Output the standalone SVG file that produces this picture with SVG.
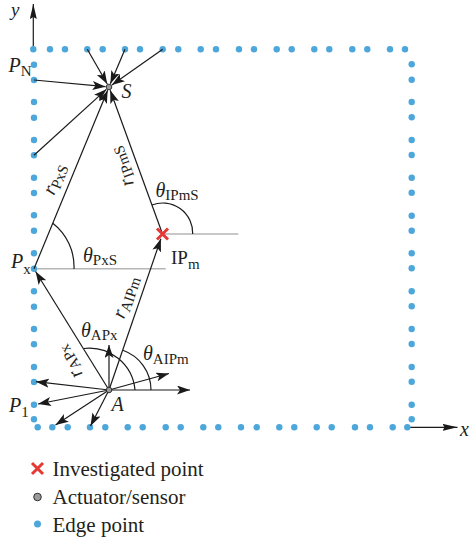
<svg xmlns="http://www.w3.org/2000/svg" width="470" height="541" viewBox="0 0 470 541">
<defs>
<style>
.edge{fill:#4ea7da}
.act{fill:#9a9a9a;stroke:#222;stroke-width:0.9}
.ln{stroke:#1a1a1a;stroke-width:1.2;fill:none}
.arr{stroke:#1a1a1a;stroke-width:1.2;fill:none;marker-end:url(#ah)}
.ax{stroke:#1a1a1a;stroke-width:1.2;fill:none;marker-end:url(#axh)}
.ref{stroke:#b5b5b5;stroke-width:1.5;fill:none}
.xm{stroke:#e53935;stroke-width:3;fill:none}
text{font-family:"Liberation Serif","Times New Roman",serif;fill:#231f20}
.it{font-style:italic;font-size:20px}
.sub{font-style:normal;font-size:15px}
.up{font-size:19px}
.leg{font-size:21px}
</style>
<marker id="ah" markerUnits="userSpaceOnUse" markerWidth="14" markerHeight="10" refX="13" refY="4.5" orient="auto">
<path d="M0,0 L13,4.5 L0,9 L3,4.5 z" fill="#1a1a1a"/>
</marker>
<marker id="axh" markerUnits="userSpaceOnUse" markerWidth="16" markerHeight="8" refX="15" refY="3.5" orient="auto">
<path d="M0,0 L15,3.5 L0,7 L2,3.5 z" fill="#1a1a1a"/>
</marker>
</defs>

<g id="axes">
<line class="ax" x1="33.3" y1="49.3" x2="33.3" y2="4"/>
<line class="ax" x1="410" y1="427.3" x2="457.5" y2="427.3"/>
<text class="it" x="11" y="16" style="font-size:19px">y</text>
<text class="it" x="460" y="436">x</text>
</g>

<g id="reference-lines">
<line class="ref" x1="34" y1="268.7" x2="165.7" y2="268.7"/>
<line class="ref" x1="162.5" y1="234" x2="238.3" y2="234"/>
</g>

<g id="edge-points">
<g class="edge">
<circle cx="33.3" cy="49.3" r="3.2"/><circle cx="50" cy="49.3" r="3.2"/><circle cx="65" cy="49.3" r="3.2"/><circle cx="87.3" cy="49.3" r="3.2"/><circle cx="102.7" cy="49.3" r="3.2"/><circle cx="125" cy="49.3" r="3.2"/><circle cx="140" cy="49.3" r="3.2"/><circle cx="162.7" cy="49.3" r="3.2"/><circle cx="178.3" cy="49.3" r="3.2"/><circle cx="200.7" cy="49.3" r="3.2"/><circle cx="216" cy="49.3" r="3.2"/><circle cx="239" cy="49.3" r="3.2"/><circle cx="254" cy="49.3" r="3.2"/><circle cx="276.7" cy="49.3" r="3.2"/><circle cx="291.7" cy="49.3" r="3.2"/><circle cx="314.3" cy="49.3" r="3.2"/><circle cx="329.3" cy="49.3" r="3.2"/><circle cx="352.3" cy="49.3" r="3.2"/><circle cx="367.3" cy="49.3" r="3.2"/><circle cx="390" cy="49.3" r="3.2"/><circle cx="405" cy="49.3" r="3.2"/>
<circle cx="411.7" cy="64.3" r="3.2"/><circle cx="411.7" cy="79.7" r="3.2"/><circle cx="411.7" cy="102" r="3.2"/><circle cx="411.7" cy="117.3" r="3.2"/><circle cx="411.7" cy="140" r="3.2"/><circle cx="411.7" cy="155" r="3.2"/><circle cx="411.7" cy="177.7" r="3.2"/><circle cx="411.7" cy="192.7" r="3.2"/><circle cx="411.7" cy="215.7" r="3.2"/><circle cx="411.7" cy="230.7" r="3.2"/><circle cx="411.7" cy="253.3" r="3.2"/><circle cx="411.7" cy="268.3" r="3.2"/><circle cx="411.7" cy="291.3" r="3.2"/><circle cx="411.7" cy="306.3" r="3.2"/><circle cx="411.7" cy="329" r="3.2"/><circle cx="411.7" cy="344" r="3.2"/><circle cx="411.7" cy="367" r="3.2"/><circle cx="411.7" cy="381.7" r="3.2"/><circle cx="411.7" cy="404.7" r="3.2"/><circle cx="411.7" cy="419.3" r="3.2"/>
<circle cx="37.7" cy="427.3" r="3.2"/><circle cx="52.3" cy="427.3" r="3.2"/><circle cx="67.7" cy="427.3" r="3.2"/><circle cx="90" cy="427.3" r="3.2"/><circle cx="105.3" cy="427.3" r="3.2"/><circle cx="127.7" cy="427.3" r="3.2"/><circle cx="142.7" cy="427.3" r="3.2"/><circle cx="165.7" cy="427.3" r="3.2"/><circle cx="180.7" cy="427.3" r="3.2"/><circle cx="203.3" cy="427.3" r="3.2"/><circle cx="218.3" cy="427.3" r="3.2"/><circle cx="241" cy="427.3" r="3.2"/><circle cx="256.7" cy="427.3" r="3.2"/><circle cx="279.3" cy="427.3" r="3.2"/><circle cx="294.3" cy="427.3" r="3.2"/><circle cx="316.7" cy="427.3" r="3.2"/><circle cx="331.7" cy="427.3" r="3.2"/><circle cx="355" cy="427.3" r="3.2"/><circle cx="370" cy="427.3" r="3.2"/><circle cx="392.7" cy="427.3" r="3.2"/><circle cx="407.3" cy="427.3" r="3.2"/>
<circle cx="34" cy="64.7" r="3.2"/><circle cx="34" cy="102" r="3.2"/><circle cx="34" cy="117.7" r="3.2"/><circle cx="34" cy="140" r="3.2"/><circle cx="34" cy="155.3" r="3.2"/><circle cx="34" cy="177.7" r="3.2"/><circle cx="34" cy="193" r="3.2"/><circle cx="34" cy="215.3" r="3.2"/><circle cx="34" cy="230.7" r="3.2"/><circle cx="34" cy="253.3" r="3.2"/><circle cx="34" cy="291.3" r="3.2"/><circle cx="34" cy="306.7" r="3.2"/><circle cx="34" cy="329" r="3.2"/><circle cx="34" cy="344.3" r="3.2"/><circle cx="34" cy="367" r="3.2"/><circle cx="34" cy="382" r="3.2"/><circle cx="34" cy="419.3" r="3.2"/>
</g>
</g>

<g id="PN">
<circle class="edge" cx="34" cy="80" r="3.2"/>
<text class="it" x="8.5" y="72">P<tspan class="sub" dy="4">N</tspan></text>
</g>
<g id="Px">
<circle class="edge" cx="34" cy="268.7" r="3.2"/>
<text class="it" x="11" y="268">P<tspan class="sub" dy="5.5">x</tspan></text>
</g>
<g id="P1">
<circle class="edge" cx="34" cy="404.7" r="3.2"/>
<text class="it" x="9" y="412">P<tspan class="sub" dy="5">1</tspan></text>
</g>

<g id="connectors">
<line class="arr" x1="87.3" y1="49.3" x2="107.25" y2="83.97"/>
<line class="arr" x1="125" y1="49.3" x2="110.37" y2="83.78"/>
<line class="arr" x1="162.7" y1="49.3" x2="111.87" y2="84.99"/>
<line class="arr" x1="34" y1="80" x2="105.51" y2="86.67"/>
<line class="arr" x1="34" y1="155.3" x2="106.41" y2="89.36"/>
<line class="arr" x1="34" y1="268.7" x2="107.67" y2="90.23"/>
<line class="arr" x1="162.5" y1="234" x2="110.2" y2="90.29"/>
<line class="arr" x1="109" y1="390" x2="35.6" y2="271.5"/>
<line class="arr" x1="109" y1="390" x2="160.9" y2="238.7"/>
<line class="arr" x1="109" y1="390" x2="109" y2="345"/>
<line class="arr" x1="109" y1="390" x2="190" y2="390"/>
<line class="arr" x1="109" y1="390" x2="169" y2="373.5"/>
<line class="arr" x1="109" y1="390" x2="36" y2="381.7"/>
<line class="arr" x1="109" y1="390" x2="38" y2="404"/>
<line class="arr" x1="109" y1="390" x2="55.5" y2="425"/>
<line class="arr" x1="109" y1="390" x2="90.5" y2="426"/>
</g>

<g id="angles">
<path class="ln" d="M83.5,348.5 A46,46 0 0,1 135,390"/>
<path class="ln" d="M122.8,350.3 A42,42 0 0,1 151,390"/>
<path class="ln" d="M52.8,223.3 A55,55 0 0,1 74,269"/>
<path class="ln" d="M151.9,205 A30,30 0 0,1 192.7,234"/>
<text class="it" x="83" y="262">θ<tspan class="sub" dy="3">PxS</tspan></text>
<text class="it" x="155.5" y="197">θ<tspan class="sub" dy="3">IPmS</tspan></text>
<text class="it" x="81" y="337">θ<tspan class="sub" dy="3">APx</tspan></text>
<text class="it" x="143" y="360">θ<tspan class="sub" dy="4">AIPm</tspan></text>
</g>

<g id="distances">
<text class="it" transform="translate(54,196) rotate(-67.6)">r<tspan class="sub" dy="3">PxS</tspan></text>
<text class="it" transform="translate(124,319.5) rotate(-70.9)">r<tspan class="sub" dy="3">AIPm</tspan></text>
<text class="it" transform="translate(134,184) rotate(-110.1)">r<tspan class="sub" dy="3">IPmS</tspan></text>
<text class="it" transform="translate(83,374) rotate(-122)">r<tspan class="sub" dy="3">APx</tspan></text>
</g>

<g id="S">
<circle class="act" cx="109" cy="87" r="2.8"/>
<text class="it" x="121.5" y="98">S</text>
</g>

<g id="A">
<circle class="act" cx="109" cy="390" r="2.8"/>
<text class="it" x="111.5" y="410.5">A</text>
</g>

<g id="IPm">
<path class="xm" d="M157,228.5 L168,239.5 M168,228.5 L157,239.5"/>
<text class="up" x="171" y="263.5">IP<tspan class="sub" dy="5">m</tspan></text>
</g>

<g id="legend">
<path class="xm" d="M32,463 L43,474 M43,463 L32,474"/>
<circle class="act" cx="37.5" cy="497" r="3.8"/>
<circle class="edge" cx="37.5" cy="524" r="3.5"/>
<text class="leg" x="52.5" y="476">Investigated point</text>
<text class="leg" x="52.5" y="503.5">Actuator/sensor</text>
<text class="leg" x="52.5" y="531.5">Edge point</text>
</g>
</svg>
